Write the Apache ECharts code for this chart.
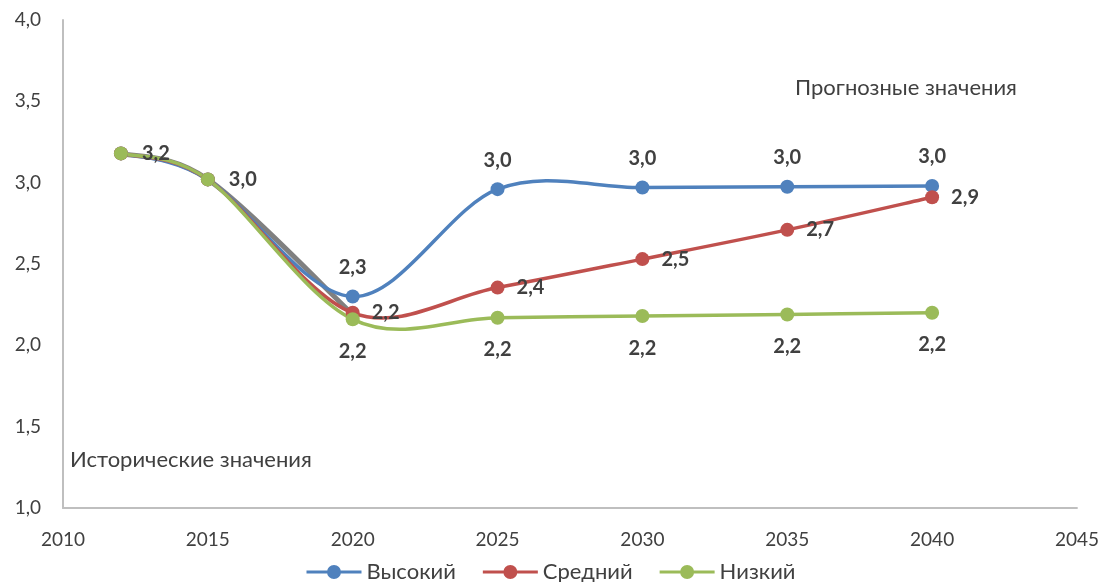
<!DOCTYPE html>
<html><head><meta charset="utf-8">
<script src="https://cdn.jsdelivr.net/npm/echarts@6/dist/echarts.min.js"></script>
<style>html,body{margin:0;padding:0;background:#fff}#c{width:1102px;height:582px}</style>
</head><body><div id="c"></div>
<script>
const years = [2012, 2015, 2020, 2025, 2030, 2035, 2040];
const high = [3.18, 3.02, 2.30, 2.96, 2.97, 2.975, 2.98];
const medium = [3.18, 3.02, 2.20, 2.355, 2.53, 2.71, 2.91];
const low = [3.18, 3.02, 2.16, 2.17, 2.18, 2.19, 2.20];
const histYears = [2012, 2015, 2020];
const historical = [3.18, 3.02, 2.19];
const seriesNames = ['Высокий', 'Средний', 'Низкий'];
const noteForecast = 'Прогнозные значения';
const noteHistory = 'Исторические значения';

const FONT = 'Lato, "Noto Sans", sans-serif';
const fmt = v => v.toFixed(1).replace('.', ',');
const pair = (xs, ys) => xs.map((x, i) => [x, ys[i]]);
const LEG_ICON = 'path://M0,5.5H21V8.5H0Z M34,5.5H55V8.5H34Z M20.5,7A7,7 0 1,1 34.5,7A7,7 0 1,1 20.5,7Z';

function lbl(pos, dist) {
  return { show: true, position: pos, distance: dist, fontFamily: FONT, fontWeight: 'bold', fontSize: 20, color: '#404040' };
}

// Excel-like smoothed curve (Catmull-Rom -> cubic Bezier) in pixel space via the chart's own scales
function curveSeries(xs, ys, color, width, z) {
  return {
    type: 'custom', z: z, silent: true, data: [[xs[0], ys[0]]],
    renderItem: (params, api) => {
      const p = xs.map((x, i) => api.coord([x, ys[i]]));
      let d = 'M' + p[0][0] + ',' + p[0][1];
      for (let i = 0; i < p.length - 1; i++) {
        const p0 = p[Math.max(i - 1, 0)], p1 = p[i], p2 = p[i + 1], p3 = p[Math.min(i + 2, p.length - 1)];
        const c1 = [p1[0] + (p2[0] - p0[0]) / 6, p1[1] + (p2[1] - p0[1]) / 6];
        const c2 = [p2[0] - (p3[0] - p1[0]) / 6, p2[1] - (p3[1] - p1[1]) / 6];
        d += 'C' + c1[0] + ',' + c1[1] + ',' + c2[0] + ',' + c2[1] + ',' + p2[0] + ',' + p2[1];
      }
      return { type: 'path', shape: { pathData: d }, style: { fill: null, stroke: color, lineWidth: width, lineCap: 'round', lineJoin: 'round' } };
    }
  };
}

function pointSeries(name, ys, color, z, label) {
  return { name: name, type: 'line', symbol: 'circle', symbolSize: 14, z: z,
    lineStyle: { color: color, width: 3.5, opacity: 0 }, itemStyle: { color: color },
    label: label, data: pair(years, ys) };
}

const chart = echarts.init(document.getElementById('c'));
const lowSeries = pointSeries(seriesNames[2], low, '#9BBB59', 10, { ...lbl('bottom', 15), formatter: p => fmt(p.value[1]) });
lowSeries.data = lowSeries.data.map((d, i) => i < 2 ? { value: d, label: { position: 'right', distance: 14 } } : d);

chart.setOption({
  animation: false,
  grid: { left: 63, right: 17, top: 20, bottom: 74 },
  xAxis: { type: 'value', min: 2010, max: 2045, interval: 5,
    axisLine: { show: true, lineStyle: { color: '#bfbfbf', width: 2 } }, axisTick: { show: false }, splitLine: { show: false },
    axisLabel: { fontFamily: FONT, fontSize: 19, color: '#404040', margin: 22, formatter: v => String(v) } },
  yAxis: { type: 'value', min: 1, max: 4, interval: 0.5,
    axisLine: { show: true, lineStyle: { color: '#bfbfbf', width: 2 } }, axisTick: { show: false }, splitLine: { show: false },
    axisLabel: { fontFamily: FONT, fontSize: 19, color: '#404040', margin: 22, formatter: v => fmt(v) } },
  legend: { bottom: -6, left: 'center', itemWidth: 55, itemHeight: 14, itemGap: 27,
    data: seriesNames.map(n => ({ name: n, icon: LEG_ICON })),
    textStyle: { fontFamily: FONT, fontSize: 22, color: '#404040' } },
  graphic: [
    { type: 'text', left: 795, top: 77, style: { text: noteForecast, fontFamily: FONT, fontSize: 22, fill: '#404040' } },
    { type: 'text', left: 70, top: 449, style: { text: noteHistory, fontFamily: FONT, fontSize: 22, fill: '#404040' } }
  ],
  series: [
    curveSeries(histYears, historical, '#808080', 5, 1),
    curveSeries(years, high, '#4F81BD', 3.5, 2),
    curveSeries(years, medium, '#C0504D', 3.5, 3),
    curveSeries(years, low, '#9BBB59', 3.5, 4),
    pointSeries(seriesNames[0], high, '#4F81BD', 8, { ...lbl('top', 12), formatter: p => p.dataIndex < 2 ? '' : fmt(p.value[1]) }),
    pointSeries(seriesNames[1], medium, '#C0504D', 9, { ...lbl('right', 12), formatter: p => p.dataIndex < 2 ? '' : fmt(p.value[1]) }),
    lowSeries
  ]
});
</script></body></html>
